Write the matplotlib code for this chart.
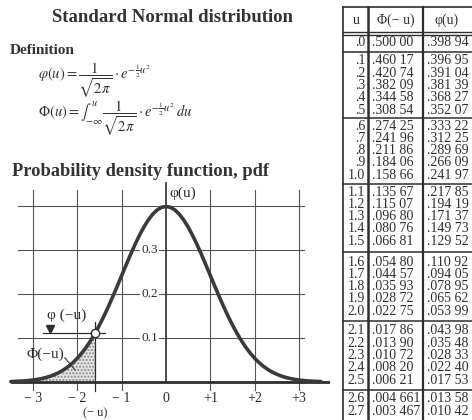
import numpy as np
import matplotlib
matplotlib.use("Agg")
import matplotlib.pyplot as plt

# --- data read from the page ---
u_tab = [0.0, 0.1, 0.2, 0.3, 0.4, 0.5, 0.6, 0.7, 0.8, 0.9, 1.0,
         1.1, 1.2, 1.3, 1.4, 1.5, 1.6, 1.7, 1.8, 1.9, 2.0,
         2.1, 2.2, 2.3, 2.4, 2.5, 2.6, 2.7]
Phi_tab = [0.50000, 0.46017, 0.42074, 0.38209, 0.34458, 0.30854,
           0.27425, 0.24196, 0.21186, 0.18406, 0.15866,
           0.13567, 0.11507, 0.09680, 0.08076, 0.06681,
           0.05480, 0.04457, 0.03593, 0.02872, 0.02275,
           0.01786, 0.01390, 0.01072, 0.00820, 0.00621,
           0.004661, 0.003467]
phi_tab = [0.39894, 0.39695, 0.39104, 0.38139, 0.36827, 0.35207,
           0.33322, 0.31225, 0.28969, 0.26609, 0.24197,
           0.21785, 0.19419, 0.17137, 0.14973, 0.12952,
           0.11092, 0.09405, 0.07895, 0.06562, 0.05399,
           0.04398, 0.03548, 0.02833, 0.02240, 0.01753,
           0.01358, 0.01042]
# tail of the curve past the table
u_tail = [2.8, 2.9, 3.0, 3.2, 3.5]
phi_tail = [0.0079, 0.0060, 0.0044, 0.0024, 0.0009]

x_ticks = [-3, -2, -1, 0, 1, 2, 3]
x_tick_labels = ['− 3', '− 2', '− 1', '0', '+1', '+2', '+3']
y_grid = [0.1, 0.2, 0.3, 0.4]
y_tick_labels = ['0.1', '0.2', '0.3']
u_mark = 1.6

SERIF = ['Liberation Serif', 'DejaVu Serif']
INK = '#2e2e2e'
plt.rcParams['font.family'] = SERIF
plt.rcParams['mathtext.fontset'] = 'stix'

W, H = 472, 420
fig = plt.figure(figsize=(W / 100, H / 100), dpi=100)
fig.patch.set_facecolor('white')

# --- plot axes, placed so that data units land on the page positions ---
PX_X0, PX_PER_U = 166, 44.33     # x=0 pixel, pixels per unit
PX_Y0, PX_PER_P = 382, 440.0     # baseline pixel, pixels per unit density
ax_left, ax_right, ax_top = 0, 330, 175
ax = fig.add_axes([ax_left / W, 0, (ax_right - ax_left) / W, (H - ax_top) / H])
ax.set_xlim((ax_left - PX_X0) / PX_PER_U, (ax_right - PX_X0) / PX_PER_U)
ax.set_ylim(-(H - PX_Y0) / PX_PER_P, (PX_Y0 - ax_top) / PX_PER_P)
ax.axis('off')

# grid
for yg in y_grid:
    ax.plot([-3.34, 3.11], [yg, yg], color='#555555', lw=0.8, zorder=1)
for xt in x_ticks:
    if xt != 0:
        ax.plot([xt, xt], [-0.018, 0.436], color='#555555', lw=0.8, zorder=1)
ax.plot([0, 0], [0, 0.452], color=INK, lw=1.2, zorder=2)
ax.plot([-3.47, 3.7], [0, 0], color=INK, lw=2.0, zorder=3)

# curve built from table values, mirrored
u_full = np.array(u_tab + u_tail)
p_full = np.array(phi_tab + phi_tail)
xs = np.concatenate([-u_full[:0:-1], u_full])
ys = np.concatenate([p_full[:0:-1], p_full])

m = xs <= -u_mark + 1e-9
ax.fill_between(xs[m], 0, ys[m], facecolor='#e4e4e4', edgecolor='#8a8a8a',
                hatch='.....', lw=0, zorder=2)
phi_mark = phi_tab[u_tab.index(u_mark)]
ax.plot([-u_mark, -u_mark], [-0.02, 0.136], color=INK, lw=0.9, zorder=3)
ax.plot(xs, ys, color='#3a3a3a', lw=2.6, solid_capstyle='round', zorder=4)
ax.plot([-2.77, -1.38], [phi_mark, phi_mark], color=INK, lw=0.9, zorder=3)
ax.plot([-u_mark], [phi_mark], marker='o', ms=6, mfc='white', mec=INK,
        mew=1.0, zorder=5)
ax.plot([-2.62], [phi_mark + 0.010], marker='v', ms=6, color=INK, zorder=5)

ax.text(-2.68, 0.152, 'φ (−u)', fontsize=11, ha='left', va='center', color=INK)
ax.text(-3.14, 0.064, 'Φ(−u)', fontsize=11, ha='left', va='center', color=INK)
ax.plot([-2.28, -2.05], [0.055, 0.027], color=INK, lw=0.8, zorder=5)

for xt, lab in zip(x_ticks, x_tick_labels):
    ax.text(xt, -0.037, lab, fontsize=10, ha='center', va='center', color=INK)
ax.text(-u_mark, -0.071, '(− u)', fontsize=9, ha='center', va='center', color=INK)
for yg, lab in zip(y_grid, y_tick_labels):
    ax.text(-0.18, yg, lab, fontsize=9.5, ha='right', va='center', color=INK,
            bbox=dict(facecolor='white', edgecolor='none', pad=0.8), zorder=6)
ax.text(0.08, 0.43, 'φ(u)', fontsize=11, ha='left', va='center', color=INK)

# --- page overlay in pixel coordinates ---
pg = fig.add_axes([0, 0, 1, 1])
pg.set_xlim(0, W)
pg.set_ylim(H, 0)
pg.axis('off')
pg.patch.set_alpha(0)

pg.text(172, 17, 'Standard Normal distribution', fontsize=13.5, weight='bold',
        ha='center', va='center', color='#333333')
pg.text(10, 50, 'Definition', fontsize=11, weight='bold', ha='left',
        va='center', color='#333333')
pg.text(38, 80, r'$\varphi(u) = \dfrac{1}{\sqrt{2\pi}} \cdot e^{-\frac{1}{2}u^2}$',
        fontsize=10.5, ha='left', va='center', color='#333333')
pg.text(38, 118, r'$\Phi(u) = \int_{-\infty}^{u} \dfrac{1}{\sqrt{2\pi}} \cdot e^{-\frac{1}{2}u^2}\, du$',
        fontsize=10.5, ha='left', va='center', color='#333333')
pg.text(12, 172, 'Probability density function, pdf', fontsize=13.3,
        weight='bold', ha='left', va='center', color='#333333')

# table
T_L, T_C1, T_C2, T_R, T_TOP = 343, 368, 423, 480, 7
for xv, lw in [(T_L, 1.2), (T_C1, 1.8), (T_C2, 1.6)]:
    pg.plot([xv, xv], [T_TOP, H], color=INK, lw=lw)
pg.plot([T_L, T_R], [T_TOP, T_TOP], color=INK, lw=1.2)
pg.plot([T_L, T_R], [32, 32], color=INK, lw=1.0)
pg.plot([T_L, T_R], [35, 35], color=INK, lw=1.0)

pg.text(356, 20, 'u', fontsize=10, ha='center', va='center', color=INK)
pg.text(396, 20, 'Φ(− u)', fontsize=10, ha='center', va='center', color=INK)
pg.text(447, 20, 'φ(u)', fontsize=10, ha='center', va='center', color=INK)

group_start = [61, 126, 192, 262, 331, 399]
step = 12.3
row_y = [43]
for i in range(1, len(u_tab)):
    g, k = divmod(i - 1, 5)
    row_y.append(group_start[g] + k * step)
for sep in [52, 118, 183.5, 251.5, 321, 389.5]:
    pg.plot([T_L, T_R], [sep, sep], color=INK, lw=1.1)


def fmt_u(u):
    s = f'{u:.1f}'
    return s[1:] if u < 1 else s


def fmt_p(v):
    d = 6 if v < 0.005 else 5
    s = f'{v:.{d}f}'[1:]
    return s[:4] + ' ' + s[4:]


for y, u, P, p in zip(row_y, u_tab, Phi_tab, phi_tab):
    pg.text(365, y, fmt_u(u), fontsize=10, ha='right', va='center', color=INK)
    pg.text(372, y, fmt_p(P), fontsize=10, ha='left', va='center', color=INK)
    pg.text(427, y, fmt_p(p), fontsize=10, ha='left', va='center', color=INK)

fig.savefig('out.png', dpi=100, facecolor='white')
